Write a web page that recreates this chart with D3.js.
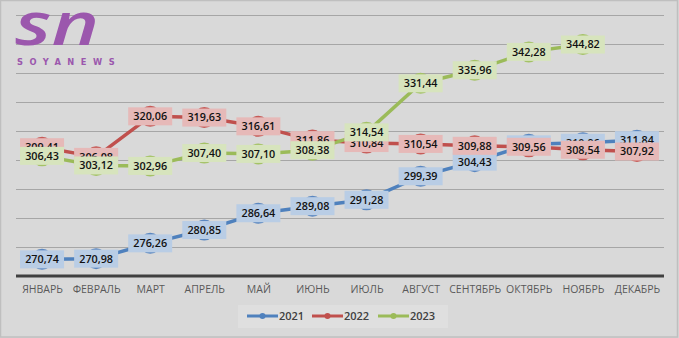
<!DOCTYPE html>
<html><head><meta charset="utf-8">
<script src="https://cdn.jsdelivr.net/npm/d3@7"></script>
<style>
html,body{margin:0;padding:0;background:#d9d9d9;}
svg{display:block;}
</style></head>
<body>
<script>
const months = ["ЯНВАРЬ","ФЕВРАЛЬ","МАРТ","АПРЕЛЬ","МАЙ","ИЮНЬ","ИЮЛЬ","АВГУСТ","СЕНТЯБРЬ","ОКТЯБРЬ","НОЯБРЬ","ДЕКАБРЬ"];
const values2021 = [270.74,270.98,276.26,280.85,286.64,289.08,291.28,299.39,304.43,310.40,310.96,311.84];
const values2022 = [309.41,306.08,320.06,319.63,316.61,311.86,310.84,310.54,309.88,309.56,308.54,307.92];
const values2023 = [306.43,303.12,302.96,307.40,307.10,308.38,314.54,331.44,335.96,342.28,344.82];
const seriesNames = ["2021","2022","2023"];
const yTicks = [265,275,285,295,305,315,325,335,345,355];

const W = 679, H = 338;
const colors = ["#4f81bd","#c0504d","#9bbb59"];
const markerColors = ["#5b87c0","#c65a57","#a4c266"];
const labelFills = ["#b9cde5","#e6b9b8","#d7e4bd"];

const svg = d3.select("body").append("svg").attr("width", W).attr("height", H);
svg.append("rect").attr("x",0.5).attr("y",0.5).attr("width",W-2).attr("height",H-1.5)
  .attr("fill","#d9d9d9").attr("stroke","#bfbfbf").attr("stroke-width",1.5);

const x = d3.scalePoint().domain(months).range([15, 664]).padding(0.5);
const y = d3.scaleLinear().domain([265, 355]).range([276, 15]);

// gridlines
svg.append("g").selectAll("line").data(yTicks.slice(1)).join("line")
  .attr("x1",16).attr("x2",664).attr("y1",d=>Math.round(y(d))+0.5).attr("y2",d=>Math.round(y(d))+0.5)
  .attr("stroke","#a6a6a6").attr("stroke-width",1);

// logo
const logo = svg.append("g");
logo.append("text").attr("transform","translate(15,45) scale(1.55,1.15)")
  .attr("font-family","Open Sans").attr("font-style","italic").attr("font-weight",600)
  .attr("font-size",52).attr("fill","#9b57ad").text("sn");
logo.append("text").attr("x",17).attr("y",65)
  .attr("font-family","DejaVu Sans").attr("font-weight",700).attr("font-size",8.3)
  .attr("letter-spacing",6.5).attr("fill","#9b57ad").text("SOYANEWS");

// x axis
const xAxis = d3.axisBottom(x).tickSize(0).tickPadding(10);
const gx = svg.append("g").attr("transform","translate(0,276)").call(xAxis);
gx.select(".domain").attr("d","M16,0H664").attr("stroke","#404040").attr("stroke-width",3);
gx.selectAll("text").attr("font-family","Open Sans").attr("font-size",10.5).attr("fill","#595959");

const allSeries = [values2021, values2022, values2023];
const line = d3.line().x((d,i)=>x(months[i])).y(d=>y(d));

allSeries.forEach((vals,si)=>{
  const g = svg.append("g");
  g.append("path").datum(vals).attr("d",line).attr("fill","none")
    .attr("stroke",colors[si]).attr("stroke-width",3.5).attr("stroke-linejoin","round");
  g.selectAll("circle").data(vals).join("circle")
    .attr("cx",(d,i)=>x(months[i])).attr("cy",d=>y(d)).attr("r",10.5)
    .attr("fill",markerColors[si]);
});

const fmt = v => v.toFixed(2).replace(".",",");
allSeries.forEach((vals,si)=>{
  const g = svg.append("g");
  const lg = g.selectAll("g").data(vals).join("g")
    .attr("transform",(d,i)=>`translate(${x(months[i])},${y(d)})`);
  lg.append("rect").attr("x",-22).attr("y",-9).attr("width",44).attr("height",18)
    .attr("fill",labelFills[si]);
  lg.append("text").attr("text-anchor","middle").attr("dy","0.36em")
    .attr("font-family","Open Sans").attr("font-weight",600).attr("font-size",10.8)
    .attr("fill","#111").text(d=>fmt(d));
});

// legend
const lgd = svg.append("g");
lgd.append("rect").attr("x",238).attr("y",305).attr("width",210).attr("height",23).attr("fill","#dfdfdf");
const legX = [247, 312, 378];
seriesNames.forEach((n,i)=>{
  const gg = lgd.append("g").attr("transform",`translate(${legX[i]},316)`);
  gg.append("line").attr("x1",0).attr("x2",31).attr("stroke",colors[i]).attr("stroke-width",3);
  gg.append("circle").attr("cx",15.5).attr("r",3).attr("fill",colors[i]);
  gg.append("text").attr("x",32).attr("dy","0.36em").attr("font-family","Open Sans")
    .attr("font-weight",600).attr("font-size",11).attr("fill","#404040").text(n);
});
</script>
</body></html>
